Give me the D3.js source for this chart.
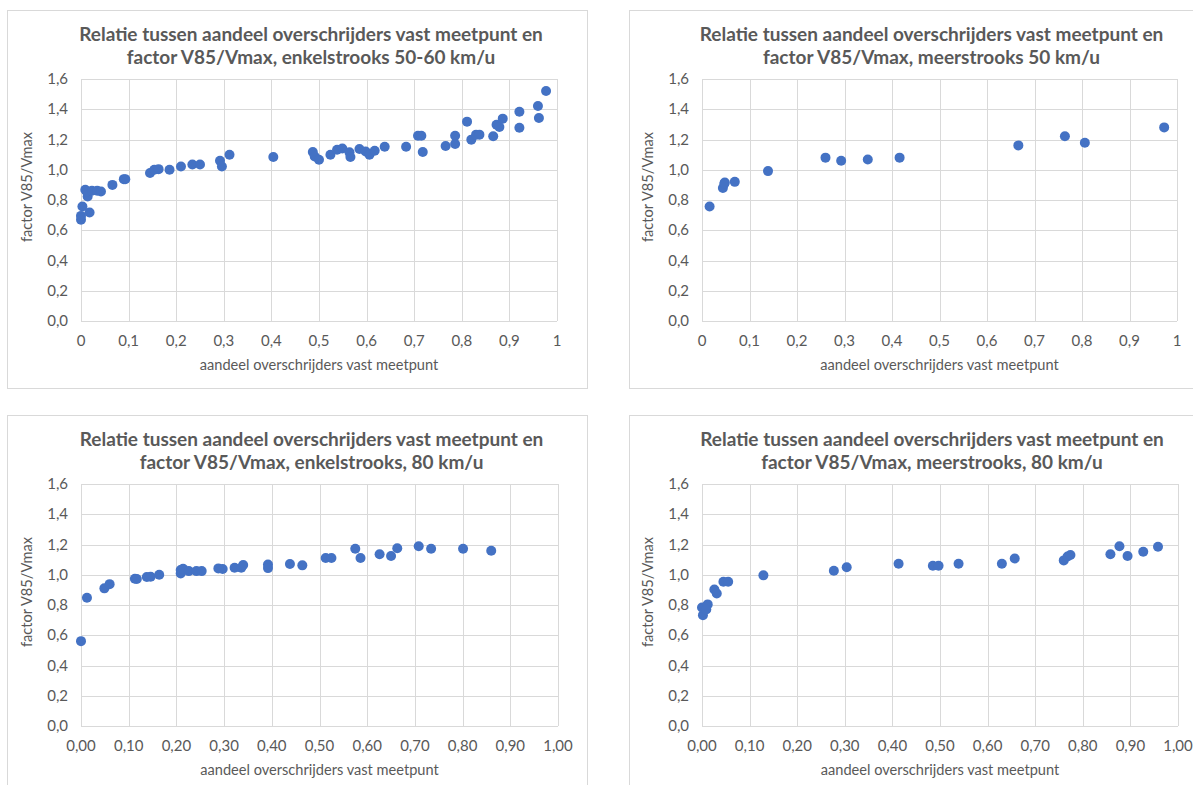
<!DOCTYPE html>
<html>
<head>
<meta charset="utf-8">
<script src="https://cdn.jsdelivr.net/npm/d3@7"></script>
<style>
body { margin: 0; background: #fff; }
text { font-family: Lato, "Open Sans", sans-serif; fill: #595959; }
.title { font-weight: bold; font-size: 19px; }
.tick { font-size: 15px; }
.axtitle { font-size: 14.6px; }
</style>
</head>
<body>
<svg id="chart" width="1193" height="785"></svg>
<script>
// ---- data ----
var xTicks = [0, 0.1, 0.2, 0.3, 0.4, 0.5, 0.6, 0.7, 0.8, 0.9, 1];
var yTicks = [0, 0.2, 0.4, 0.6, 0.8, 1.0, 1.2, 1.4, 1.6];

var titleLine1 = "Relatie tussen aandeel overschrijders vast meetpunt en";
var titles2 = [
  "factor V85/Vmax, enkelstrooks 50-60 km/u",
  "factor V85/Vmax, meerstrooks 50 km/u",
  "factor V85/Vmax, enkelstrooks, 80 km/u",
  "factor V85/Vmax, meerstrooks, 80 km/u"
];
var xLabel = "aandeel overschrijders vast meetpunt";
var yLabel = "factor V85/Vmax";

var enkel5060 = [
  [0, 0.669], [0, 0.695], [0.003, 0.757], [0.009, 0.868], [0.014, 0.823], [0.012, 0.856],
  [0.018, 0.717], [0.023, 0.861], [0.034, 0.861], [0.042, 0.856], [0.066, 0.90], [0.09, 0.938],
  [0.093, 0.938], [0.145, 0.978], [0.154, 1.0], [0.163, 1.004], [0.186, 1.0], [0.21, 1.022],
  [0.234, 1.035], [0.25, 1.035], [0.292, 1.06], [0.296, 1.022], [0.312, 1.099], [0.404, 1.084],
  [0.487, 1.117], [0.491, 1.088], [0.5, 1.066], [0.524, 1.099], [0.538, 1.132], [0.549, 1.141],
  [0.564, 1.115], [0.566, 1.084], [0.585, 1.137], [0.598, 1.121], [0.606, 1.099], [0.617, 1.126],
  [0.638, 1.152], [0.683, 1.152], [0.708, 1.225], [0.715, 1.225], [0.718, 1.117], [0.766, 1.157],
  [0.786, 1.225], [0.786, 1.170], [0.811, 1.318], [0.82, 1.199], [0.83, 1.232], [0.837, 1.232],
  [0.866, 1.221], [0.873, 1.298], [0.879, 1.283], [0.886, 1.338], [0.921, 1.384], [0.921, 1.278],
  [0.96, 1.422], [0.962, 1.342], [0.977, 1.521]
];

var meer50 = [
  [0.016, 0.757], [0.044, 0.879], [0.047, 0.907], [0.048, 0.916], [0.069, 0.92], [0.139, 0.991],
  [0.26, 1.08], [0.293, 1.06], [0.349, 1.068], [0.416, 1.08], [0.666, 1.161], [0.764, 1.221],
  [0.806, 1.179], [0.973, 1.28]
];

var enkel80 = [
  [0, 0.561], [0.0125, 0.848], [0.049, 0.91], [0.06, 0.938], [0.113, 0.974], [0.117, 0.972],
  [0.138, 0.985], [0.146, 0.987], [0.164, 1.0], [0.209, 1.009], [0.209, 1.031], [0.214, 1.04],
  [0.226, 1.024], [0.242, 1.024], [0.253, 1.024], [0.288, 1.042], [0.297, 1.038], [0.322, 1.046],
  [0.336, 1.046], [0.340, 1.064], [0.392, 1.068], [0.392, 1.044], [0.438, 1.071], [0.464, 1.062],
  [0.513, 1.111], [0.525, 1.111], [0.575, 1.172], [0.586, 1.111], [0.626, 1.135], [0.650, 1.124],
  [0.663, 1.175], [0.708, 1.188], [0.734, 1.172], [0.801, 1.172], [0.860, 1.159]
];

var meer80 = [
  [0.002, 0.733], [0, 0.784], [0.007, 0.784], [0.012, 0.804], [0.009, 0.77], [0.026, 0.903],
  [0.031, 0.876], [0.045, 0.954], [0.055, 0.954], [0.129, 0.996], [0.277, 1.026], [0.304, 1.049],
  [0.413, 1.073], [0.485, 1.06], [0.497, 1.06], [0.539, 1.073], [0.630, 1.073], [0.657, 1.108],
  [0.760, 1.095], [0.768, 1.121], [0.774, 1.13], [0.858, 1.135], [0.877, 1.188], [0.894, 1.124],
  [0.927, 1.152], [0.958, 1.185]
];

// ---- layout ----
var svg = d3.select("#chart");

var fmtShort = function(d) { return String(+d.toFixed(1)).replace(".", ","); };
var fmtTwo = function(d) { return d.toFixed(2).replace(".", ","); };
var fmtY = function(d) { return d.toFixed(1).replace(".", ","); };

var panels = [
  {data: enkel5060, title2: titles2[0], frame: [7, 10, 580, 378], plot: [81, 79, 557, 321], fmt: fmtShort},
  {data: meer50,    title2: titles2[1], frame: [629, 10, 600, 378], plot: [702, 79, 1177, 321], fmt: fmtShort},
  {data: enkel80,   title2: titles2[2], frame: [7, 415, 580, 400], plot: [81, 484, 558, 726], fmt: fmtTwo},
  {data: meer80,    title2: titles2[3], frame: [629, 415, 600, 400], plot: [702, 484, 1178, 726], fmt: fmtTwo}
];

panels.forEach(function(p) {
  var g = svg.append("g");
  var L = p.plot[0], T = p.plot[1], R = p.plot[2], B = p.plot[3];

  // chart frame
  g.append("rect")
    .attr("x", p.frame[0] + 0.5).attr("y", p.frame[1] + 0.5)
    .attr("width", p.frame[2]).attr("height", p.frame[3])
    .attr("fill", "#fff").attr("stroke", "#d9d9d9");

  var x = d3.scaleLinear().domain([0, 1]).range([L, R]);
  var y = d3.scaleLinear().domain([0, 1.6]).range([B, T]);

  // gridlines
  g.selectAll(".vg").data(xTicks).enter().append("line")
    .attr("x1", function(d) { return Math.round(x(d)) + 0.5; })
    .attr("x2", function(d) { return Math.round(x(d)) + 0.5; })
    .attr("y1", T).attr("y2", B)
    .attr("stroke", "#d9d9d9");
  g.selectAll(".hg").data(yTicks).enter().append("line")
    .attr("y1", function(d) { return Math.round(y(d)) + 0.5; })
    .attr("y2", function(d) { return Math.round(y(d)) + 0.5; })
    .attr("x1", L).attr("x2", R)
    .attr("stroke", "#d9d9d9");

  // tick labels
  g.selectAll(".xt").data(xTicks).enter().append("text")
    .attr("class", "tick")
    .attr("x", function(d) { return x(d); })
    .attr("y", B + 25)
    .attr("text-anchor", "middle")
    .text(p.fmt);
  g.selectAll(".yt").data(yTicks).enter().append("text")
    .attr("class", "tick")
    .attr("x", L - 13)
    .attr("y", function(d) { return y(d) + 5; })
    .attr("text-anchor", "end")
    .text(fmtY);

  // titles
  var cx = (L + R) / 2 - 8;
  g.append("text").attr("class", "title").attr("x", cx).attr("y", T - 38)
    .attr("text-anchor", "middle").text(titleLine1);
  g.append("text").attr("class", "title").attr("x", cx).attr("y", T - 15)
    .attr("text-anchor", "middle").text(p.title2);

  g.append("text").attr("class", "axtitle")
    .attr("x", (L + R) / 2).attr("y", B + 49)
    .attr("text-anchor", "middle").text(xLabel);
  g.append("text").attr("class", "axtitle")
    .attr("transform", "translate(" + (L - 49) + "," + ((T + B) / 2 - 13) + ") rotate(-90)")
    .attr("text-anchor", "middle").text(yLabel);

  // points
  g.selectAll("circle").data(p.data).enter().append("circle")
    .attr("cx", function(d) { return x(d[0]); })
    .attr("cy", function(d) { return y(d[1]); })
    .attr("r", 5)
    .attr("fill", "#4472c4");
});
</script>
</body>
</html>
